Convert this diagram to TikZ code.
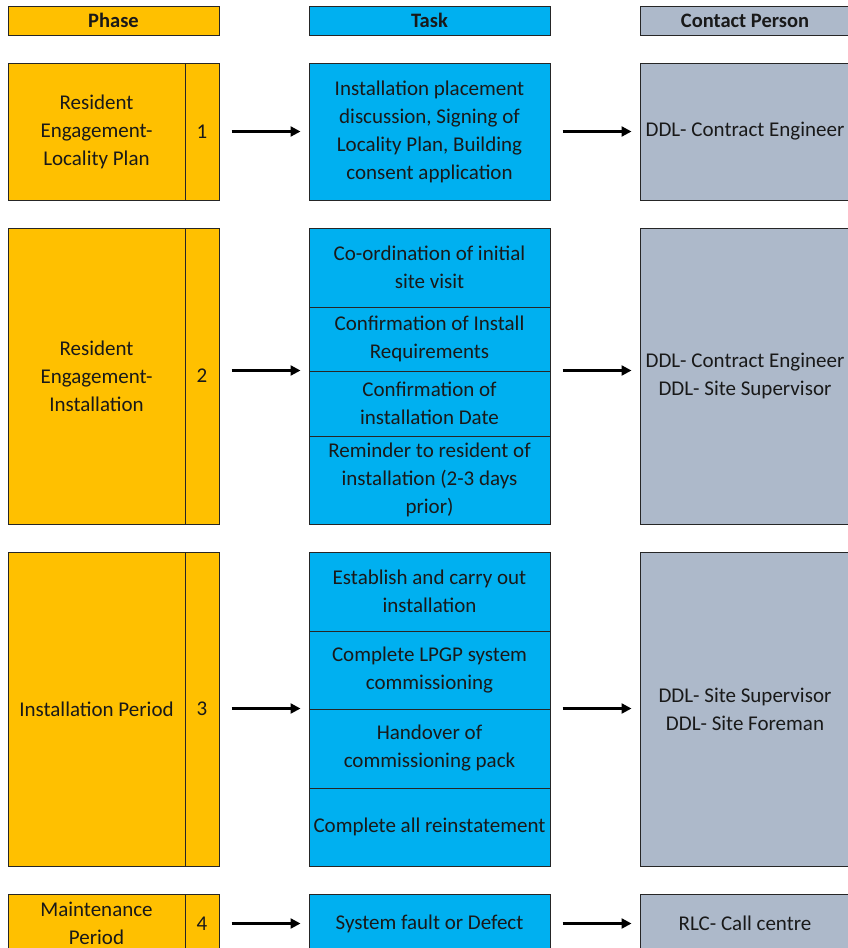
\documentclass[tikz,border=0pt]{standalone}
\usepackage{fontspec}
\setmainfont{Carlito}
\usepackage{tikz}
\usetikzlibrary{arrows.meta}
\definecolor{phaseorange}{HTML}{FFC000}
\definecolor{taskblue}{HTML}{00B0F0}
\definecolor{contactgrey}{HTML}{ADB9CA}
\tikzset{cell/.style={draw=black!85, line width=1pt, inner sep=0pt, align=center,
    text=black!90, font=\fontsize{21}{28}\selectfont},
  phase/.style={cell, fill=phaseorange},
  task/.style={cell, fill=taskblue},
  contact/.style={cell, fill=contactgrey},
  head/.style={font=\fontsize{20.5}{24}\selectfont\bfseries},
  flow/.style={line width=2.3pt, -{Triangle[length=10pt,width=10pt]},
    shorten <=12pt, shorten >=8pt}
}
\newcommand{\gridcell}[6]{\node[#1, minimum width={(#5)*1pt-(#3)*1pt},
    minimum height={(#6)*1pt-(#4)*1pt}] (#2) at ({(#3+#5)/2},{(#4+#6)/2})}

\begin{document}
\begin{tikzpicture}[x=1pt, y=-1pt]
      \useasboundingbox (0,0) rectangle (848,948);
      \gridcell{phase,head}{phasehead}{8}{6}{219}{35} {Phase};
      \gridcell{task,head}{taskhead}{309}{6}{550}{35} {Task};
      \gridcell{contact,head}{contacthead}{640}{6}{850}{35} {Contact Person};

      \gridcell{phase}{p1}{8}{63}{185}{200} {Resident\\Engagement-\\Locality Plan};
      \gridcell{phase}{n1}{185}{63}{219}{200} {1};
      \gridcell{task}{t1}{309}{63}{550}{200} {Installation placement\\discussion, Signing of\\Locality Plan, Building\\consent application};
      \gridcell{contact}{c1}{640}{63}{850}{200} {DDL- Contract Engineer};
      \draw[flow] (n1) -- (t1);
      \draw[flow] (t1) -- (c1);

      \gridcell{phase}{p2}{8}{228}{185}{524} {Resident\\Engagement-\\Installation};
      \gridcell{phase}{n2}{185}{228}{219}{524} {2};
      \gridcell{task}{t2a}{309}{228}{550}{307} {Co-ordination of initial\\site visit};
      \gridcell{task}{t2b}{309}{307}{550}{371} {Confirmation of Install\\Requirements};
      \gridcell{task}{t2c}{309}{371}{550}{436} {Confirmation of\\installation Date};
      \gridcell{task}{t2d}{309}{436}{550}{524} {Reminder to resident of\\installation (2-3 days\\prior)};
      \gridcell{contact}{c2}{640}{228}{850}{524} {DDL- Contract Engineer\\DDL- Site Supervisor};
      \draw[flow] (n2.east |- t2c.north) -- (t2c.north west);
      \draw[flow] (t2c.north east) -- (c2.west |- t2c.north);

      \gridcell{phase}{p3}{8}{552}{185}{866} {Installation Period};
      \gridcell{phase}{n3}{185}{552}{219}{866} {3};
      \gridcell{task}{t3a}{309}{552}{550}{631} {Establish and carry out\\installation};
      \gridcell{task}{t3b}{309}{631}{550}{709} {Complete LPGP system\\commissioning};
      \gridcell{task}{t3c}{309}{709}{550}{788} {Handover of\\commissioning pack};
      \gridcell{task}{t3d}{309}{788}{550}{866} {Complete all reinstatement};
      \gridcell{contact}{c3}{640}{552}{850}{866} {DDL- Site Supervisor\\DDL- Site Foreman};
      \draw[flow] (n3.east |- t3c.north) -- (t3c.north west);
      \draw[flow] (t3c.north east) -- (c3.west |- t3c.north);

      \gridcell{phase}{p4}{8}{894}{185}{953} {Maintenance\\Period};
      \gridcell{phase}{n4}{185}{894}{219}{953} {4};
      \gridcell{task}{t4}{309}{894}{550}{953} {System fault or Defect};
      \gridcell{contact}{c4}{640}{894}{850}{953} {RLC- Call centre};
      \draw[flow] (n4) -- (t4);
      \draw[flow] (t4) -- (c4);
    \end{tikzpicture}
\end{document}
